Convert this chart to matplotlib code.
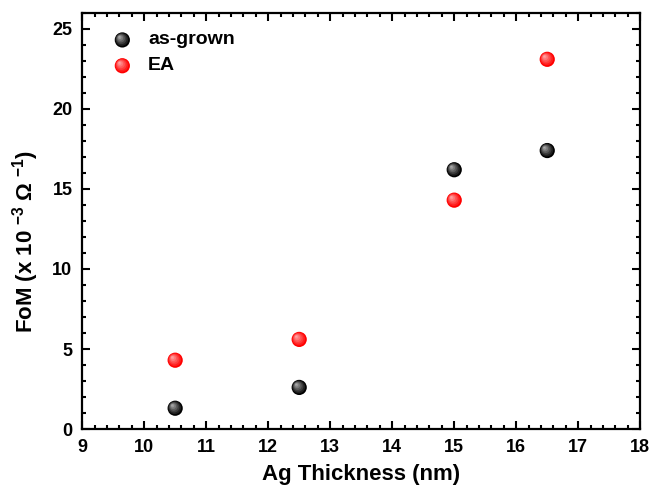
import matplotlib
matplotlib.use("Agg")
import matplotlib.pyplot as plt
import matplotlib.transforms as mtransforms
import numpy as np

thickness = [10.5, 12.5, 15.0, 16.5]
fom_grown = [1.3, 2.6, 16.2, 17.4]
fom_ea = [4.3, 5.6, 14.3, 23.1]

plt.rcParams['font.family'] = ['Liberation Sans', 'DejaVu Sans']
plt.rcParams['font.weight'] = 'bold'
plt.rcParams['mathtext.fontset'] = 'custom'
plt.rcParams['mathtext.rm'] = 'Liberation Sans:bold'
plt.rcParams['mathtext.bf'] = 'Liberation Sans:bold'
plt.rcParams['mathtext.sf'] = 'Liberation Sans'


def sphere(ax, x, y, base, light, transform=None, size=120, zorder=3):
    # fake 3D ball: dark base + lighter layers shifted to upper left
    if transform is None:
        transform = ax.transData
    ax.scatter(x, y, s=size, color=base, edgecolors='none', transform=transform,
               zorder=zorder, clip_on=False)
    fig = ax.figure
    n = 6
    for i in range(1, n + 1):
        f = i / n
        c = tuple(np.array(matplotlib.colors.to_rgb(base)) * (1 - f * 0.85)
                  + np.array(matplotlib.colors.to_rgb(light)) * f * 0.85)
        tr = mtransforms.offset_copy(transform, fig=fig, x=-2.2 * f, y=2.2 * f, units='points')
        ax.scatter(x, y, s=size * (1 - f * 0.93) ** 2, color=c, edgecolors='none',
                   transform=tr, zorder=zorder + 0.01 * i, clip_on=False)


fig = plt.figure(figsize=(6.52, 4.96), dpi=100)
ax = fig.add_axes([0.126, 0.135, 0.856, 0.839])

sphere(ax, thickness, fom_grown, '#000000', '#d8d8d8')
sphere(ax, thickness, fom_ea, '#ff0000', '#ffd0d0')

# legend
sphere(ax, [0.072], [0.935], '#000000', '#d8d8d8', transform=ax.transAxes)
sphere(ax, [0.072], [0.873], '#ff0000', '#ffd0d0', transform=ax.transAxes)
ax.text(0.118, 0.935, 'as-grown', transform=ax.transAxes, va='center', fontsize=14)
ax.text(0.118, 0.873, 'EA', transform=ax.transAxes, va='center', fontsize=14)

ax.set_xlim(9, 18)
ax.set_ylim(0, 26)
ax.set_xticks(np.arange(9, 19, 1))
ax.set_yticks(np.arange(0, 26, 5))
ax.set_xticks(np.arange(9, 18.01, 0.2), minor=True)
ax.set_yticks(np.arange(0, 26.01, 1), minor=True)
ax.tick_params(which='both', direction='in', top=True, right=True, width=1.5,
               labelsize=13)
ax.tick_params(which='major', length=6, pad=7)
ax.tick_params(which='minor', length=3)
for s in ax.spines.values():
    s.set_linewidth(1.6)

ax.set_xlabel('Ag Thickness (nm)', fontsize=16, fontweight='bold', labelpad=6)
ax.set_ylabel(r'FoM (x 10$^{\ \mathbf{-3}}$ $\mathsf{\Omega}^{\ \mathbf{-1}}$)', fontsize=16,
              fontweight='bold')
ax.yaxis.set_label_coords(-0.073, 0.45)

fig.savefig('out.png', dpi=100)
